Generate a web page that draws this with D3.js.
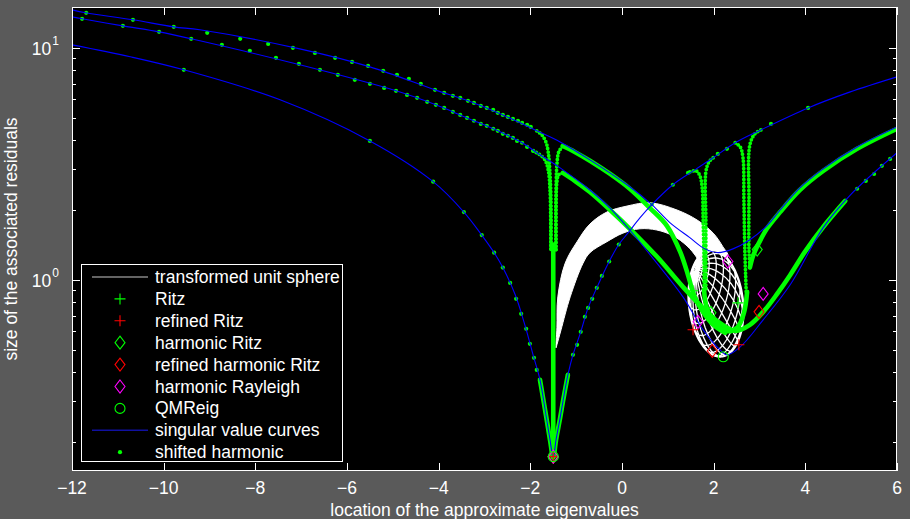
<!DOCTYPE html>
<html>
<head>
<meta charset="utf-8">
<script src="https://cdn.jsdelivr.net/npm/d3@7"></script>
<style>
html,body{margin:0;padding:0;background:#5a5a5a;}
svg{display:block;}
text{font-family:"Liberation Sans",Arial,Helvetica,sans-serif;fill:#ffffff;}
</style>
</head>
<body>
<svg id="chart" width="910" height="519"></svg>
<script>
// ---- axes ----
const xDomain = [-12, 6];
const yDomain = [0.15, 15];
const xTicks = [-12, -10, -8, -6, -4, -2, 0, 2, 4, 6];
const xTickLabels = ["\u221212", "\u221210", "\u22128", "\u22126", "\u22124", "\u22122", "0", "2", "4", "6"];
const yMajorTicks = [1, 10];
const yMajorExponents = ["0", "1"];
const yMinorTicks = [0.2, 0.3, 0.4, 0.5, 0.6, 0.7, 0.8, 0.9, 2, 3, 4, 5, 6, 7, 8, 9];
const xLabel = "location of the approximate eigenvalues";
const yLabel = "size of the associated residuals";

// ---- singular value curves [theta, sigma] ----
const svUpper = [[-12,14.58],[-11.70,14.16],[-10.67,13.21],[-9.78,12.32],[-9.21,11.96],[-7.03,9.90],[-5.50,8.28],
  [-4.08,6.59],[-3.36,5.91],[-2.60,5.14],[-1.86,4.39],[-1.35,3.93],[-0.70,3.29],[0.17,2.52],[0.65,2.11],
  [1.05,1.76],[1.48,1.52],[1.81,1.36],[2.10,1.31],[2.42,1.36],[2.79,1.49],[3.16,1.71],[3.45,2.00],
  [3.88,2.49],[4.39,3.01],[5.13,3.74],[6.0,4.56]];
const svMiddle = [[-12,13.60],[-11.78,13.34],[-10.89,12.44],[-10.10,11.72],[-9.40,10.94],[-7.03,8.45],[-4.93,6.53],
  [-4.06,5.68],[-3.38,4.99],[-2.71,4.39],[-2.18,3.90],[-1.79,3.46],[-1.35,3.04],[-0.70,2.44],[-0.26,2.04],
  [0.17,1.64],[0.76,1.18],[1.33,0.845],[1.77,0.609],[2.14,0.499],[2.29,0.475],[2.58,0.514],[3.08,0.672],
  [3.67,0.952],[4.39,1.68],[4.98,2.32],[6.0,3.53]];
const svLower = [[-12,10.30],[-10.73,9.15],[-9.56,8.04],[-7.46,5.97],[-5.50,3.97],[-4.12,2.65],[-3.45,1.96],
  [-3.06,1.56],[-2.79,1.31],[-2.60,1.13],[-2.33,0.862],[-2.12,0.640],[-1.94,0.475],[-1.79,0.371],[-1.66,0.262],
  [-1.57,0.204],[-1.50,0.171],[-1.44,0.204],[-1.35,0.254],[-1.29,0.298],[-1.18,0.390],[-1.07,0.475],
  [-0.90,0.597],[-0.74,0.757],[-0.55,0.924],[-0.28,1.20],[-0.07,1.42],[0.15,1.61],[0.39,1.85],[0.65,2.11],
  [1.11,2.57],[1.59,2.98],[1.99,3.36],[2.47,3.90],[3.03,4.43],[4.06,5.51],[4.98,6.46],[6.0,7.50]];

// ---- shifted harmonic samples ----
const shiftedDotsUpper = [[-11.69,14.16],[-10.67,13.21],[-9.78,12.32],[-9.05,11.61],[-8.33,10.94],[-7.72,10.40],
  [-7.18,10.0],[-6.70,9.51],[-6.26,9.06],[-5.89,8.70],[-5.54,8.36],[-5.21,7.96],[-4.91,7.65],[-4.65,7.35],
  [-4.39,7.00],[-4.08,6.59],[-3.88,6.40],[-3.69,6.21],[-3.53,6.09],[-3.36,5.91],[-3.23,5.79],[-3.08,5.62],
  [-2.95,5.51],[-2.81,5.40],[-2.71,5.25],[-2.60,5.14],[-2.49,5.04],[-2.38,4.94],[-2.27,4.85],[-2.18,4.75],
  [-2.07,4.66],[-1.99,4.56]];
const shiftedDotsMiddle = [[-11.78,13.34],[-10.89,12.44],[-10.10,11.72],[-9.40,10.94],[-8.73,10.30],[-8.12,9.71],
  [-7.55,9.06],[-7.05,8.53],[-6.59,8.04],[-6.20,7.65],[-5.83,7.28],[-5.50,7.00],[-5.19,6.72],[-4.93,6.53],
  [-4.69,6.27],[-4.47,6.09],[-4.25,5.85],[-4.06,5.68],[-3.88,5.51],[-3.69,5.30],[-3.53,5.14],[-3.38,4.99],
  [-3.23,4.85],[-3.08,4.70],[-2.95,4.61],[-2.81,4.48],[-2.71,4.39],[-2.60,4.26],[-2.49,4.18],[-2.38,4.09],
  [-2.29,3.97],[-2.18,3.90],[-2.07,3.74],[-1.94,3.60],
  [5.13,2.47],[5.32,2.67],[5.50,2.86],[5.67,3.10],[5.85,3.32]];
const shiftedDotsLower = [[-9.56,8.04],[-5.50,3.97],[-4.12,2.65],[-3.45,1.96],[-3.06,1.56],[-2.79,1.31],[-2.60,1.13],
  [-2.44,0.970],[-2.31,0.828],[-2.20,0.714],[-2.09,0.615],[-2.01,0.530],[-1.92,0.461],[-1.86,0.409],
  [-1.18,0.390],[-1.07,0.475],[-0.98,0.525],[-0.90,0.597],[-0.81,0.693],[-0.74,0.757],[-0.65,0.828],
  [-0.55,0.924],[-0.44,1.04],[-0.28,1.20],[-0.07,1.42],[0.65,2.11],[1.11,2.57],[1.44,2.89],[2.09,3.49],
  [2.29,3.67],[3.25,4.70],[4.06,5.51]];

// densely sampled stretches of the shifted harmonic paths
const trailUpper = [[-1.29,3.78],[-1.03,3.56],[-0.70,3.26],[-0.26,2.86],[0.17,2.47],[0.61,2.04],[0.98,1.71],
  [1.27,1.32],[1.44,1.05],[1.57,0.862],[1.75,0.735],[1.99,0.640],[2.25,0.591]];
const trailMiddle = [[-1.29,2.89],[-1.03,2.67],[-0.70,2.39],[-0.26,2.00],[0.17,1.66],[0.76,1.26],[1.33,0.933],
  [1.70,0.780],[2.07,0.666],[2.47,0.603],[2.79,0.640],[3.12,0.743],[3.40,0.879],[3.67,1.05],[3.99,1.32],
  [4.39,1.69],[4.87,2.19]];
const trailRight = [[2.79,1.13],[2.86,1.27],[2.97,1.42],[3.16,1.66],[3.45,1.96],[3.88,2.44],[4.39,2.95],
  [5.13,3.67],[6.0,4.48]];
const trailLoop = [[1.79,0.906],[1.85,0.757],[2.01,0.659],[2.25,0.603],[2.51,0.621],[2.66,0.721],[2.73,0.888]];
const trailDip = [[-1.50,1.42],[-1.50,0.176]];

// steep descents into the eigenvalue dips
const dipUpperIn = [[-1.86,4.39],[-1.75,4.22],[-1.66,3.93],[-1.61,3.56],[-1.57,2.84],[-1.55,2.21],[-1.55,1.35]];
const dipUpperOut = [[-1.44,1.35],[-1.44,2.21],[-1.42,3.13],[-1.38,3.56],[-1.29,3.78]];
const dipMiddleIn = [[-1.94,3.60],[-1.79,3.46],[-1.68,3.29],[-1.61,2.98],[-1.57,2.44],[-1.55,1.35]];
const dipMiddleOut = [[-1.44,1.35],[-1.42,2.65],[-1.38,2.84],[-1.29,2.89]];
const dipRightA = [[1.48,2.92],[1.62,2.95],[1.70,2.81],[1.75,2.49],[1.77,1.81],[1.79,1.22],[1.79,0.906]];
const dipRightB = [[1.99,3.36],[1.90,3.23],[1.83,2.92],[1.83,1.81],[1.83,1.22],[1.83,0.906]];
const dipRightC = [[2.47,3.90],[2.58,3.74],[2.64,3.36],[2.66,2.21],[2.68,1.35],[2.71,0.888]];
const dipRightD = [[3.03,4.43],[2.90,4.26],[2.79,3.82],[2.77,2.21],[2.77,1.35],[2.79,1.13]];

// ---- transformed unit sphere ----
const sphereBandOuter = [[-1.44,0.509],[-1.42,0.621],[-1.40,0.845],[-1.24,1.18],[-0.98,1.46],
  [-0.70,1.74],[-0.33,1.96],[0.11,2.08],[0.61,2.15],[1.20,2.00],[1.64,1.81],[1.99,1.59],[2.20,1.39],[2.31,1.26]];
const sphereBandInner = [[1.77,1.10],[1.64,1.24],[1.42,1.40],[1.11,1.55],[0.76,1.64],[0.39,1.66],[0.02,1.59],
  [-0.33,1.46],[-0.70,1.31],[-0.85,1.18],[-1.13,0.845],[-1.33,0.609],[-1.42,0.525]];
const sphereCapBounds = [[1.46,0.466],[2.64,1.35]];

// ---- approximate eigenpairs [theta, residual] ----
const ritz = [[-1.50,0.173],[1.55,0.897],[2.53,0.796]];
const refinedRitz = [[-1.50,0.173],[1.55,0.609],[2.55,0.525]];
const harmonicRitz = [[-1.50,0.173],[1.94,0.721],[2.95,1.35]];
const refinedHarmonicRitz = [[-1.50,0.173],[1.97,0.494],[2.99,0.728]];
const harmonicRayleigh = [[-1.50,0.173],[1.66,0.659],[2.31,1.20],[3.08,0.870]];
const qmrEig = [[-1.50,0.173],[2.21,0.466]];

const legendLabels = ["transformed unit sphere", "Ritz", "refined Ritz", "harmonic Ritz",
  "refined harmonic Ritz", "harmonic Rayleigh", "QMReig", "singular value curves", "shifted harmonic"];

// ---- drawing ----
const svg = d3.select("#chart");
const plot = {left: 72, right: 897, top: 7, bottom: 471};
const x = d3.scaleLinear().domain(xDomain).range([plot.left, plot.right]);
const y = d3.scaleLog().domain(yDomain).range([plot.bottom, plot.top]);
const FONT = 17.5;

const GREEN = "#00ff00", BLUE = "#0000ff", RED = "#ff0000", MAGENTA = "#ff00ff";

svg.append("rect").attr("width", 910).attr("height", 519).attr("fill", "#5a5a5a");
svg.append("rect").attr("x", plot.left).attr("y", plot.top)
  .attr("width", plot.right - plot.left).attr("height", plot.bottom - plot.top).attr("fill", "#000");

svg.append("clipPath").attr("id", "plotClip").append("rect")
  .attr("x", plot.left).attr("y", plot.top)
  .attr("width", plot.right - plot.left).attr("height", plot.bottom - plot.top);

const g = svg.append("g").attr("clip-path", "url(#plotClip)");

const smooth = d3.line().x(d => x(d[0])).y(d => y(d[1])).curve(d3.curveCatmullRom.alpha(0.5));

// sphere image: folded band plus the visible cap with its graticule
const band = sphereBandOuter.concat(sphereBandInner);
g.append("path")
  .attr("d", d3.line().x(d => x(d[0])).y(d => y(d[1])).curve(d3.curveCatmullRomClosed.alpha(0.5))(band))
  .attr("fill", "#ffffff").attr("stroke", "#ffffff").attr("stroke-width", 1);

const capX0 = x(sphereCapBounds[0][0]), capX1 = x(sphereCapBounds[1][0]);
const capY0 = y(sphereCapBounds[1][1]), capY1 = y(sphereCapBounds[0][1]);
const cap = g.append("g")
  .attr("transform", `translate(${(capX0 + capX1) / 2},${(capY0 + capY1) / 2}) rotate(-6) scale(${(capX1 - capX0) / 200},${(capY1 - capY0) / 200})`);
const globe = d3.geoOrthographic().scale(100).translate([0, 0]).rotate([15, -30, 42]);
const globePath = d3.geoPath(globe);
cap.append("path").attr("d", globePath({type: "Sphere"}))
  .attr("fill", "#000").attr("stroke", "none");
cap.append("path").attr("d", globePath(d3.geoGraticule().step([15, 15])()))
  .attr("fill", "none").attr("stroke", "#ffffff").attr("stroke-width", 1.3)
  .attr("vector-effect", "non-scaling-stroke");
cap.append("path").attr("d", globePath({type: "Sphere"}))
  .attr("fill", "none").attr("stroke", "#ffffff").attr("stroke-width", 2.2)
  .attr("vector-effect", "non-scaling-stroke");

// shifted harmonic: dense stretches, dotted dips, sparse samples
[trailUpper, trailMiddle, trailRight, trailLoop, trailDip,
 svLower.filter(d => d[0] >= -1.87 && d[0] <= -1.17)].forEach(pts => {
  g.append("path").attr("d", smooth(pts)).attr("fill", "none")
    .attr("stroke", GREEN).attr("stroke-width", 4.6).attr("stroke-linecap", "round");
});
[dipUpperIn, dipUpperOut, dipMiddleIn, dipMiddleOut, dipRightA, dipRightB, dipRightC, dipRightD].forEach(pts => {
  g.append("path").attr("d", smooth(pts)).attr("fill", "none")
    .attr("stroke", GREEN).attr("stroke-width", 3.8).attr("stroke-linecap", "round")
    .attr("stroke-dasharray", "0 3.6");
});
g.selectAll("circle.shifted")
  .data(shiftedDotsUpper.concat(shiftedDotsMiddle, shiftedDotsLower))
  .join("circle").attr("class", "shifted")
  .attr("cx", d => x(d[0])).attr("cy", d => y(d[1])).attr("r", 2.1).attr("fill", GREEN);

// singular value curves
[svUpper, svMiddle, svLower].forEach(pts => {
  g.append("path").attr("d", smooth(pts)).attr("fill", "none")
    .attr("stroke", BLUE).attr("stroke-width", 1.1);
});

// markers
const plusPath = "M-5.5,0H5.5M0,-5.5V5.5";
const diamondPath = "M0,-6.5L5,0L0,6.5L-5,0Z";
const markerSets = [
  {pts: ritz, d: plusPath, color: GREEN},
  {pts: refinedRitz, d: plusPath, color: RED},
  {pts: harmonicRitz, d: diamondPath, color: GREEN},
  {pts: refinedHarmonicRitz, d: diamondPath, color: RED},
  {pts: harmonicRayleigh, d: diamondPath, color: MAGENTA}
];
markerSets.forEach(s => {
  s.pts.forEach(p => {
    g.append("path").attr("d", s.d).attr("transform", `translate(${x(p[0])},${y(p[1])})`)
      .attr("fill", "none").attr("stroke", s.color).attr("stroke-width", 1.1);
  });
});
qmrEig.forEach(p => {
  g.append("circle").attr("cx", x(p[0])).attr("cy", y(p[1])).attr("r", 5)
    .attr("fill", "none").attr("stroke", GREEN).attr("stroke-width", 1.1);
});

// axes box and ticks
const ax = svg.append("g").attr("stroke", "#ffffff").attr("stroke-width", 1).attr("fill", "none");
ax.append("rect").attr("x", plot.left + 0.5).attr("y", plot.top + 0.5)
  .attr("width", plot.right - plot.left - 1).attr("height", plot.bottom - plot.top - 1);
xTicks.forEach(t => {
  const px = Math.round(x(t)) + 0.5;
  ax.append("line").attr("x1", px).attr("x2", px).attr("y1", plot.bottom).attr("y2", plot.bottom - 8);
  ax.append("line").attr("x1", px).attr("x2", px).attr("y1", plot.top).attr("y2", plot.top + 8);
});
yMajorTicks.forEach(t => {
  const py = Math.round(y(t)) + 0.5;
  ax.append("line").attr("x1", plot.left).attr("x2", plot.left + 8).attr("y1", py).attr("y2", py);
  ax.append("line").attr("x1", plot.right).attr("x2", plot.right - 8).attr("y1", py).attr("y2", py);
});
yMinorTicks.forEach(t => {
  const py = Math.round(y(t)) + 0.5;
  ax.append("line").attr("x1", plot.left).attr("x2", plot.left + 4).attr("y1", py).attr("y2", py);
  ax.append("line").attr("x1", plot.right).attr("x2", plot.right - 4).attr("y1", py).attr("y2", py);
});

// tick labels
xTicks.forEach((t, i) => {
  svg.append("text").attr("x", x(t)).attr("y", 494).attr("text-anchor", "middle")
    .attr("font-size", FONT).text(xTickLabels[i]);
});
yMajorTicks.forEach((t, i) => {
  const txt = svg.append("text").attr("x", 59).attr("y", y(t) + 7).attr("text-anchor", "end").attr("font-size", FONT);
  txt.append("tspan").text("10");
  txt.append("tspan").attr("dy", -10).attr("dx", 1).attr("font-size", 12).text(yMajorExponents[i]);
});
svg.append("text").attr("x", (plot.left + plot.right) / 2).attr("y", 515.5).attr("text-anchor", "middle")
  .attr("font-size", FONT).text(xLabel);
svg.append("text").attr("transform", `translate(17,${(plot.top + plot.bottom) / 2}) rotate(-90)`)
  .attr("text-anchor", "middle").attr("font-size", FONT).text(yLabel);

// legend
const lg = svg.append("g");
lg.append("rect").attr("x", 81.5).attr("y", 264.5).attr("width", 261).attr("height", 197)
  .attr("fill", "#000").attr("stroke", "#ffffff").attr("stroke-width", 1);
const rowY = i => 277 + i * 21.9;
const sx0 = 92, sx1 = 148, sxm = 120;
legendLabels.forEach((lab, i) => {
  lg.append("text").attr("x", 155).attr("y", rowY(i) + 6).attr("font-size", FONT).text(lab);
});
lg.append("line").attr("x1", sx0).attr("x2", sx1).attr("y1", rowY(0)).attr("y2", rowY(0))
  .attr("stroke", "#c8c8c8").attr("stroke-width", 1.2);
[[1, plusPath, GREEN], [2, plusPath, RED], [3, diamondPath, GREEN], [4, diamondPath, RED], [5, diamondPath, MAGENTA]]
  .forEach(([i, d, c]) => {
    lg.append("path").attr("d", d).attr("transform", `translate(${sxm},${rowY(i)})`)
      .attr("fill", "none").attr("stroke", c).attr("stroke-width", 1.1);
  });
lg.append("circle").attr("cx", sxm).attr("cy", rowY(6)).attr("r", 5)
  .attr("fill", "none").attr("stroke", GREEN).attr("stroke-width", 1.1);
lg.append("line").attr("x1", sx0).attr("x2", sx1).attr("y1", rowY(7)).attr("y2", rowY(7))
  .attr("stroke", "#1010a0").attr("stroke-width", 1.6);
lg.append("circle").attr("cx", sxm).attr("cy", rowY(8)).attr("r", 2.1).attr("fill", GREEN);
</script>
</body>
</html>
